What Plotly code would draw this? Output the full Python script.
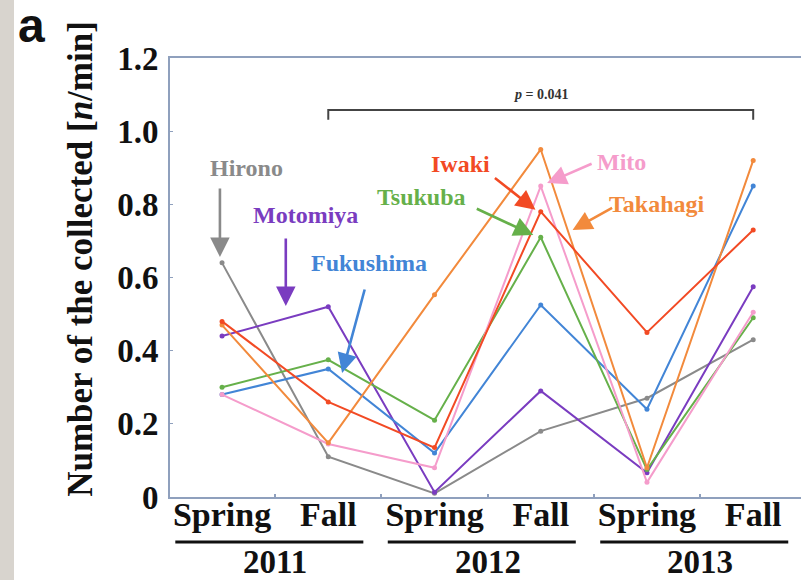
import plotly.graph_objects as go

# ---------------- data ----------------
seasons = ["Spring", "Fall", "Spring", "Fall", "Spring", "Fall"]
years = ["2011", "2012", "2013"]
x_idx = [0, 1, 2, 3, 4, 5]

hirono    = [0.64, 0.11, 0.01, 0.18, 0.27, 0.43]
motomiya  = [0.44, 0.52, 0.013, 0.29, 0.066, 0.575]
fukushima = [0.28, 0.35, 0.12, 0.525, 0.24, 0.85]
tsukuba   = [0.30, 0.375, 0.21, 0.71, 0.075, 0.49]
iwaki     = [0.48, 0.26, 0.135, 0.78, 0.45, 0.73]
takahagi  = [0.47, 0.148, 0.553, 0.95, 0.08, 0.92]
mito      = [0.28, 0.145, 0.08, 0.85, 0.04, 0.505]

y_ticks = [0, 0.2, 0.4, 0.6, 0.8, 1.0, 1.2]
y_ticktext = ["0", "0.2", "0.4", "0.6", "0.8", "1.0", "1.2"]

p_text = "<i>p</i> = 0.041"

series = [
    ("Hirono", hirono, "#8a8a8a"),
    ("Motomiya", motomiya, "#7a3cc0"),
    ("Fukushima", fukushima, "#4285d6"),
    ("Tsukuba", tsukuba, "#66b04a"),
    ("Mito", mito, "#f59ccb"),
    ("Takahagi", takahagi, "#f28a3c"),
    ("Iwaki", iwaki, "#f24a24"),
]

# label placement: (text x, text y, arrow tip x, tip y, tail offset ax, ay)
labels = {
    "Hirono":    (0.23, 0.90, -0.02, 0.656, 0, -70),
    "Motomiya":  (0.79, 0.77, 0.60, 0.522, 0, -69),
    "Fukushima": (1.38, 0.64, 1.13, 0.339, 23, -85),
    "Tsukuba":   (1.88, 0.82, 2.93, 0.716, -58, -27),
    "Iwaki":     (2.24, 0.91, 2.95, 0.785, -42, -33),
    "Mito":      (3.76, 0.915, 3.06, 0.858, 46, -20),
    "Takahagi":  (4.09, 0.80, 3.30, 0.73, 41, -23),
}

SERIF = "Liberation Serif, Times New Roman, serif"
AXIS_COLOR = "#8fa0bd"

fig = go.Figure()
for name, vals, col in series:
    fig.add_trace(go.Scatter(
        x=x_idx, y=vals, mode="lines+markers", name=name,
        line=dict(color=col, width=2),
        marker=dict(color=col, size=5),
        showlegend=False,
    ))

annotations = []
for name, vals, col in series:
    tx, ty, ax_, ay_, dx, dy = labels[name]
    annotations.append(dict(
        x=tx, y=ty, xref="x", yref="y", text=name, showarrow=False,
        font=dict(family=SERIF, size=24, color=col, weight="bold"),
    ))
    annotations.append(dict(
        x=ax_, y=ay_, xref="x", yref="y", text="", showarrow=True,
        ax=dx, ay=dy, axref="pixel", ayref="pixel",
        arrowhead=2, arrowsize=1.5, arrowwidth=2.6, arrowcolor=col, standoff=0,
    ))

# p-value
annotations.append(dict(
    x=3, y=1.099, xref="x", yref="y", text=p_text, showarrow=False,
    font=dict(family=SERIF, size=14, color="#333333", weight="bold"),
))

# year labels
for i, yr in enumerate(years):
    annotations.append(dict(
        x=2 * i + 0.5, y=-0.148, xref="x", yref="paper", text=yr, showarrow=False,
        xanchor="center", yanchor="middle",
        font=dict(family=SERIF, size=33, color="#111111", weight="bold"),
    ))

# y title
annotations.append(dict(
    x=-0.143, y=0.542, xref="paper", yref="paper",
    xanchor="center", yanchor="middle",
    text="Number of the collected [<i>n</i>/min]", showarrow=False, textangle=-90,
    font=dict(family=SERIF, size=35, color="#111111", weight="bold"),
))

# panel letter
annotations.append(dict(
    x=-0.220, y=1.073, xref="paper", yref="paper", text="a", showarrow=False,
    xanchor="center", yanchor="middle",
    font=dict(family="Liberation Sans, Arial, sans-serif", size=48, color="#111111", weight="bold"),
))

shapes = []
# left grey paper strip
shapes.append(dict(type="rect", xref="paper", yref="paper",
                   x0=-0.2694, x1=-0.2472, y0=-0.2, y1=1.14,
                   fillcolor="#d8d4ce", line=dict(width=0), layer="below"))
# year underlines
for i in range(len(years)):
    shapes.append(dict(type="line", xref="x", yref="paper",
                       x0=2 * i - 0.44, x1=2 * i + 1.33, y0=-0.1025, y1=-0.1025,
                       line=dict(color="#111111", width=3)))
# p bracket
shapes.append(dict(type="path", xref="x", yref="y",
                   path="M 1,1.031 L 1,1.058 L 5,1.058 L 5,1.031",
                   line=dict(color="#444444", width=2)))

fig.update_layout(
    width=801, height=580,
    margin=dict(l=170, r=0, t=58, b=83),
    paper_bgcolor="white", plot_bgcolor="white",
    annotations=annotations, shapes=shapes,
    xaxis=dict(
        range=[-0.49, 5.45], tickvals=x_idx, ticktext=seasons,
        showgrid=False, zeroline=False, showline=True, mirror=True,
        linecolor=AXIS_COLOR, linewidth=2, ticks="",
        tickfont=dict(family=SERIF, size=34, color="#111111", weight="bold"),
        minor=dict(tickvals=[0.5, 1.5, 2.5, 3.5, 4.5], ticks="inside", ticklen=3,
                   tickcolor=AXIS_COLOR, tickwidth=1.5),
        ticklabelstandoff=-14,
    ),
    yaxis=dict(
        range=[0, 1.2], tickvals=y_ticks, ticktext=y_ticktext,
        showgrid=False, zeroline=False, showline=True, mirror=False,
        linecolor=AXIS_COLOR, linewidth=2, ticks="inside", ticklen=3,
        tickcolor=AXIS_COLOR,
        tickfont=dict(family=SERIF, size=33, color="#111111", weight="bold"),
        ticklabelstandoff=3,
    ),
)

fig.write_html("out.html", config={"displayModeBar": False},
               post_script="document.body.style.margin='0px';")
